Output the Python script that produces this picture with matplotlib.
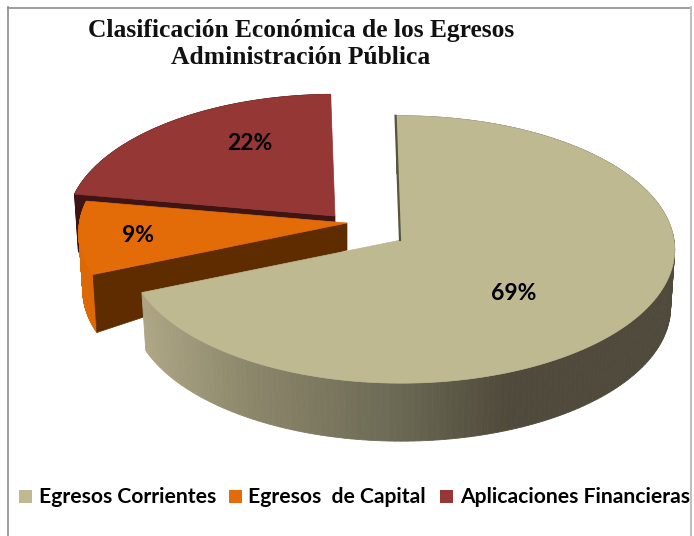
import numpy as np
import matplotlib
matplotlib.use('Agg')
import matplotlib.pyplot as plt
from matplotlib.patches import Polygon, Rectangle

# datos
categorias = ['Egresos Corrientes', 'Egresos  de Capital', 'Aplicaciones Financieras']
valores = [69, 9, 22]
etiquetas = ['69%', '9%', '22%']
titulo = 'Clasificación Económica de los Egresos\nAdministración Pública'

colores = ['#bfb992', '#e36c09', '#953735']
pared_recta = [None, '#5f2c00', '#3f1414']
pared_curva = [None, '#dc6806', '#3f1414']

# geometria del pastel en pixeles
rx, ry, k = 273, 133, 0.071
inicio = -1
centros = [(401, 240), (347, 223), (335, 216)]
escala = [1.0, 0.98, 0.98]
pos_etiqueta = [(514, 293), (138, 236), (250, 144)]


def borde(cx, cy, ang, e):
    # punto del aro con una perspectiva sencilla, ang en grados desde arriba y horario
    a = np.radians(ang)
    u, v = np.sin(a), -np.cos(a)
    s = e / (1 - k * v)
    return cx + rx * u * s, cy + ry * v * s


def abajo(cx, x, y, r=1.0):
    # el fondo del pastel se ve mas chico y mas hondo en el aro
    return cx + (x - cx) * 0.985, y + 27 + 31 * r


def color_pared(x):
    # degradado de la pared del pastel grande
    return [np.interp(x, [145, 250, 400, 510, 675], c) for c in
            ([0.68, 0.55, 0.42, 0.31, 0.31],
             [0.65, 0.53, 0.41, 0.29, 0.29],
             [0.52, 0.42, 0.33, 0.23, 0.23])]


fig = plt.figure(figsize=(6.94, 5.36), dpi=100)
ax = fig.add_axes([0, 0, 1, 1])
ax.set_xlim(0, 694)
ax.set_ylim(536, 0)
ax.axis('off')

# marco
ax.plot([8.5, 8.5], [7, 536], color='#8c8c8c', lw=1.2)
ax.plot([8.5, 690], [7.5, 7.5], color='#8c8c8c', lw=1.2)
ax.plot([691, 691], [7, 536], color='#bdbdbd', lw=1.4)

acum = np.cumsum([0] + valores) / sum(valores) * 360 + inicio

# se dibuja de atras hacia adelante: rojo, naranja, grande
for i in [2, 1, 0]:
    cx, cy = centros[i]
    angs = np.linspace(acum[i], acum[i + 1], 200)
    xs, ys = borde(cx, cy, angs, escala[i])
    xb, yb = abajo(cx, xs, ys)

    for j in range(len(angs) - 1):
        c = color_pared(xs[j]) if i == 0 else pared_curva[i]
        ax.add_patch(Polygon([(xs[j], ys[j]), (xs[j + 1], ys[j + 1]),
                              (xb[j + 1], yb[j + 1]), (xb[j], yb[j])],
                             facecolor=c, edgecolor=c, lw=0.6))

    if i > 0:
        # pared recta que mira hacia el frente
        xa, ya = abajo(cx, cx, cy, 0)
        ax.add_patch(Polygon([(cx, cy), (xs[0], ys[0]), (xb[0], yb[0]), (xa, ya)],
                             facecolor=pared_recta[i], edgecolor=pared_recta[i], lw=0.5))
    else:
        # filo oscuro del corte de arriba
        ax.plot([xs[0] - 1, cx - 1], [ys[0], cy], color='#57543f', lw=1.6)

    ax.add_patch(Polygon(list(zip(xs, ys)) + [(cx, cy)], facecolor=colores[i],
                         edgecolor=colores[i], lw=0.5))
    ax.text(*pos_etiqueta[i], etiquetas[i], family='Lato', weight='bold', fontsize=16.5,
            ha='center', va='center', color='black')

ax.text(301, 44, titulo, family='Liberation Serif', weight='bold', fontsize=18.4,
        ha='center', va='center', linespacing=1.23, color='#111111')

# leyenda
ley_x = [19, 229, 440]
tx = [39, 248, 460]
for x, t, nombre, c in zip(ley_x, tx, categorias, colores):
    ax.add_patch(Rectangle((x, 490), 13, 13, facecolor=c, edgecolor='none'))
    ax.text(t, 497, nombre, family='Lato', weight='bold', fontsize=15.2,
            ha='left', va='center', color='black')

fig.savefig('out.png', dpi=100)
